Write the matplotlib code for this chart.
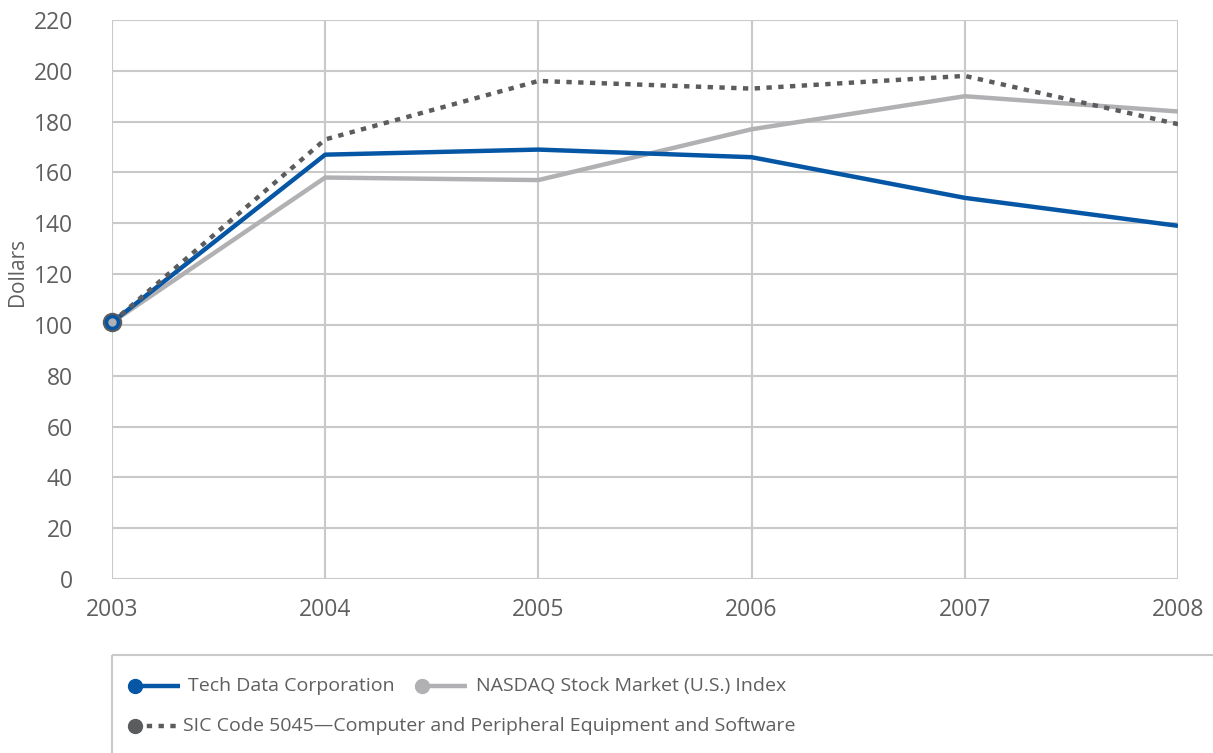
import matplotlib.pyplot as plt
from matplotlib.lines import Line2D
from matplotlib.patches import Rectangle

# values
years = [2003, 2004, 2005, 2006, 2007, 2008]
tech_data = [101, 167, 169, 166, 150, 139]
nasdaq = [101, 158, 157, 177, 190, 184]
sic_5045 = [101, 173, 196, 193, 198, 179]
y_ticks = list(range(0, 221, 20))

labels = ['Tech Data Corporation',
          'NASDAQ Stock Market (U.S.) Index',
          'SIC Code 5045\u2014Computer and Peripheral Equipment and Software']

blue = '#0656a6'
light = '#b1b1b4'
dark = '#5b5c5e'
grid_c = '#c9c9c9'
text_c = '#5f5f5f'
dots = (0, (1.2, 1.45))

plt.rcParams['font.family'] = ['Open Sans', 'DejaVu Sans']

fig = plt.figure(figsize=(12.13, 7.53), dpi=100)
ax = fig.add_axes([112 / 1213, 1 - 579 / 753, (1178 - 112) / 1213, (579 - 20) / 753])

ax.plot(years, nasdaq, color=light, lw=3.2, solid_capstyle='butt', zorder=3)
ax.plot(years, tech_data, color=blue, lw=3.2, solid_capstyle='butt', zorder=4)
ax.plot(years, sic_5045, color=dark, lw=3.2, linestyle=dots, dash_capstyle='butt', zorder=5)

# start point marker (stacked)
ax.plot(years[0], sic_5045[0], 'o', color=dark, ms=13, zorder=6, clip_on=False)
ax.plot(years[0], tech_data[0], 'o', color=blue, ms=10, zorder=7, clip_on=False)
ax.plot(years[0], nasdaq[0], 'o', color=light, ms=5, zorder=8, clip_on=False)

ax.set_xlim(years[0], years[-1])
ax.set_ylim(0, 220)
ax.set_xticks(years)
ax.set_yticks(y_ticks)
ax.grid(True, color=grid_c, lw=1.5)
ax.set_axisbelow(True)
for s in ax.spines.values():
    s.set_visible(False)
ax.tick_params(length=0, labelsize=16.5, labelcolor=text_c)
ax.tick_params(axis='y', pad=28)
ax.tick_params(axis='x', pad=14)
ax.set_ylabel('Dollars', fontsize=15, color=text_c)
ax.yaxis.set_label_coords(-0.079, 0.55)

# legend box
lax = fig.add_axes([112 / 1213, 0, 1 - 112 / 1213, 1 - 655 / 753])
lax.set_xlim(0, 1101)
lax.set_ylim(98, 0)
lax.axis('off')
lax.add_patch(Rectangle((0, 0), 1200, 200, fill=False, ec=grid_c, lw=1.5, clip_on=False))

entries = [(23, 31, blue, '-', labels[0], 76),
           (310, 31, light, '-', labels[1], 364),
           (23, 71, dark, dots, labels[2], 71)]
for x0, yy, c, ls, lab, tx in entries:
    lax.add_line(Line2D([x0, x0 + 45], [yy, yy], color=c, lw=3.2, linestyle=ls,
                        solid_capstyle='butt', dash_capstyle='butt'))
    lax.add_line(Line2D([x0], [yy], marker='o', color=c, ms=10))
    lax.text(tx, yy, lab, fontsize=14, color=text_c, va='center', ha='left')

fig.savefig('out.png', dpi=100)
